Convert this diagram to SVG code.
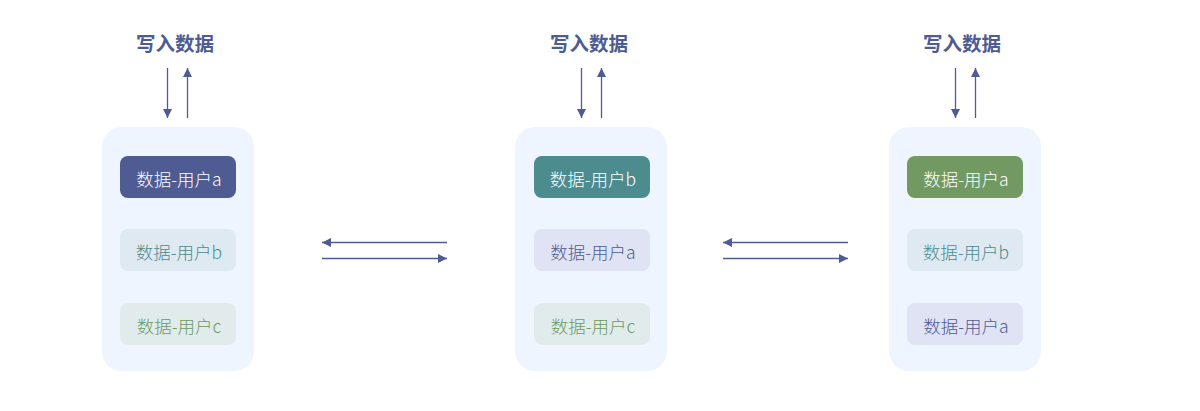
<svg xmlns="http://www.w3.org/2000/svg" width="1200" height="411" viewBox="0 0 1200 411">
<style>
.panel{fill:#EEF5FE}
.title{font-family:"Noto Sans CJK SC",sans-serif;font-weight:bold;font-size:19.5px;fill:#4F5B93;text-anchor:middle}
.lbl{font-family:"Noto Sans CJK SC",sans-serif;font-weight:300;font-size:17.5px;text-anchor:middle}
.line{stroke:#4F5B93;stroke-width:1.3;fill:none}
.bA{fill:#4F5B93}.bB{fill:#4D8C8E}.bC{fill:#739963}
.lA{fill:#DFE3F4}.lB{fill:#DFE9F2}.lC{fill:#E2EBEC}
.tW{fill:#ffffff}.tA{fill:#4F5B93}.tB{fill:#4D8C8E}.tC{fill:#6E9A5E}
</style>
<defs>
<marker id="ah" viewBox="0 0 10 10" refX="10" refY="5" markerWidth="9" markerHeight="9" markerUnits="userSpaceOnUse" orient="auto">
<path d="M0,0 L10,5 L0,10 z" fill="#4F5B93"/>
</marker>
</defs>
<rect width="1200" height="411" fill="#ffffff"/>
<g id="node1">
<rect class="panel" x="102" y="127" width="152" height="244" rx="20"/>
<text class="title" x="175" y="51">写入数据</text>
<rect class="bA" x="120" y="156" width="116" height="42" rx="8"/>
<text class="lbl tW" x="179" y="186">数据-用户a</text>
<rect class="lB" x="120" y="229" width="116" height="42" rx="8"/>
<text class="lbl tB" x="179" y="259">数据-用户b</text>
<rect class="lC" x="120" y="303" width="116" height="42" rx="8"/>
<text class="lbl tC" x="179" y="333">数据-用户c</text>
</g>
<g id="node2">
<rect class="panel" x="515" y="127" width="152" height="244" rx="20"/>
<text class="title" x="589" y="51">写入数据</text>
<rect class="bB" x="534" y="156" width="116" height="42" rx="8"/>
<text class="lbl tW" x="593" y="186">数据-用户b</text>
<rect class="lA" x="534" y="229" width="116" height="42" rx="8"/>
<text class="lbl tA" x="593" y="259">数据-用户a</text>
<rect class="lC" x="534" y="303" width="116" height="42" rx="8"/>
<text class="lbl tC" x="593" y="333">数据-用户c</text>
</g>
<g id="node3">
<rect class="panel" x="889" y="127" width="152" height="244" rx="20"/>
<text class="title" x="962" y="51">写入数据</text>
<rect class="bC" x="907" y="156" width="116" height="42" rx="8"/>
<text class="lbl tW" x="966" y="186">数据-用户a</text>
<rect class="lB" x="907" y="229" width="116" height="42" rx="8"/>
<text class="lbl tB" x="966" y="259">数据-用户b</text>
<rect class="lA" x="907" y="303" width="116" height="42" rx="8"/>
<text class="lbl tA" x="966" y="333">数据-用户a</text>
</g>
<g id="connectors">
<line class="line" x1="167.5" y1="68" x2="167.5" y2="118" marker-end="url(#ah)"/>
<line class="line" x1="187.5" y1="118" x2="187.5" y2="68" marker-end="url(#ah)"/>
<line class="line" x1="581.5" y1="68" x2="581.5" y2="118" marker-end="url(#ah)"/>
<line class="line" x1="601.5" y1="118" x2="601.5" y2="68" marker-end="url(#ah)"/>
<line class="line" x1="955.5" y1="68" x2="955.5" y2="118" marker-end="url(#ah)"/>
<line class="line" x1="975.5" y1="118" x2="975.5" y2="68" marker-end="url(#ah)"/>
<line class="line" x1="447" y1="242.5" x2="322" y2="242.5" marker-end="url(#ah)"/>
<line class="line" x1="322" y1="258.5" x2="447" y2="258.5" marker-end="url(#ah)"/>
<line class="line" x1="848" y1="242.5" x2="723" y2="242.5" marker-end="url(#ah)"/>
<line class="line" x1="723" y1="258.5" x2="848" y2="258.5" marker-end="url(#ah)"/>
</g>
</svg>
